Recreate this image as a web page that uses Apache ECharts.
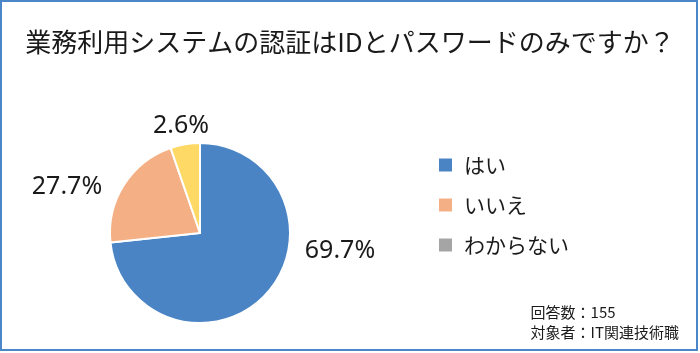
<!DOCTYPE html>
<html>
<head>
<meta charset="utf-8">
<script src="https://cdn.jsdelivr.net/npm/echarts@6/dist/echarts.min.js"></script>
<style>
  html, body { margin: 0; padding: 0; background: #fff; }
  #chart { width: 700px; height: 353px; }
</style>
</head>
<body>
<div id="chart"></div>
<script>
const titleText = "業務利用システムの認証はIDとパスワードのみですか？";
const answers = ["はい", "いいえ", "わからない"];
// slice shares as drawn in the picture (percent)
const shares = [73.3, 21.4, 5.3];
// percentages printed next to the slices
const printedLabels = ["69.7%", "27.7%", "2.6%"];
const noteLines = ["回答数：155", "対象者：IT関連技術職"];

const sliceColors = ["#4a84c5", "#f4b084", "#ffd966"];
const legendColors = ["#4a84c5", "#f4b084", "#a5a5a5"];
// where each printed label sits (text centre)
const labelSpots = [[340, 251], [67, 187], [181, 126]];

const jpFont = "'Noto Sans CJK JP', 'Noto Sans', sans-serif";

const chart = echarts.init(document.getElementById("chart"), null, { renderer: "canvas" });

chart.setOption({
  animation: false,
  backgroundColor: "#fff",
  title: {
    text: titleText,
    left: "center",
    top: 24,
    textStyle: {
      fontFamily: jpFont,
      fontSize: 26,
      fontWeight: "normal",
      color: "#1a1a1a"
    }
  },
  legend: {
    orient: "vertical",
    left: 432,
    top: 149,
    icon: "rect",
    itemWidth: 15,
    itemHeight: 15,
    itemGap: 18,
    selectedMode: false,
    textStyle: {
      fontFamily: jpFont,
      fontSize: 21,
      color: "#1a1a1a",
      padding: [0, 0, 0, 6],
      lineHeight: 22
    },
    data: answers.map((name, i) => ({
      name: name,
      itemStyle: { color: legendColors[i] }
    }))
  },
  graphic: [
    {
      type: "rect",
      shape: { x: 1, y: 1, width: 696, height: 349 },
      style: { fill: "none", stroke: "#4a86c8", lineWidth: 2 },
      silent: true
    },
    {
      type: "text",
      right: 21,
      top: 302,
      style: {
        text: noteLines.join("\n"),
        font: "15px " + jpFont,
        fill: "#1a1a1a",
        align: "right",
        lineHeight: 20
      }
    }
  ],
  series: [
    {
      type: "pie",
      center: [200, 233],
      radius: 90,
      startAngle: 90,
      clockwise: true,
      avoidLabelOverlap: false,
      itemStyle: { borderColor: "#fff", borderWidth: 2 },
      label: {
        show: true,
        position: "outside",
        fontFamily: "'Noto Sans', sans-serif",
        fontSize: 25,
        color: "#1a1a1a",
        formatter: (p) => printedLabels[p.dataIndex]
      },
      labelLine: { show: false },
      labelLayout: (p) => ({
        x: labelSpots[p.dataIndex][0],
        y: labelSpots[p.dataIndex][1],
        align: "center",
        verticalAlign: "middle"
      }),
      data: answers.map((name, i) => ({
        name: name,
        value: shares[i],
        itemStyle: { color: sliceColors[i] }
      }))
    }
  ]
});
</script>
</body>
</html>
